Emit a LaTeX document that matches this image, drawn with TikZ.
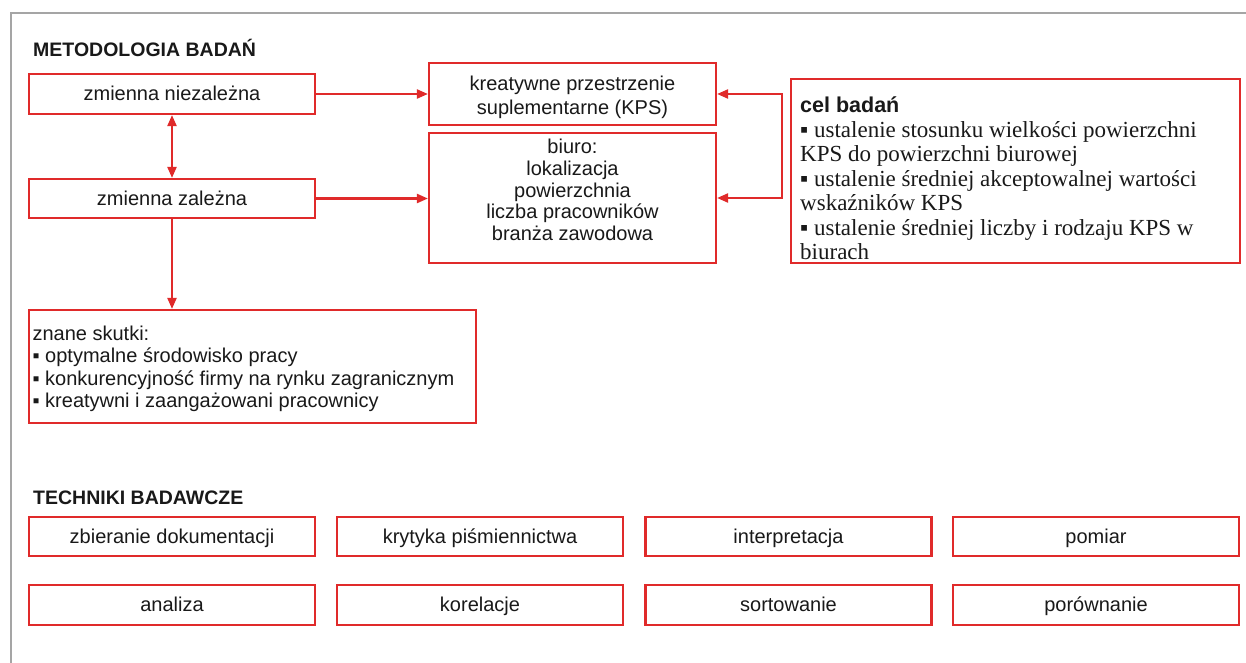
\documentclass[tikz,border=0pt]{standalone}
\usepackage{fontspec}
\setmainfont{Liberation Sans}
\newfontfamily\serifB{Liberation Serif}
\usetikzlibrary{arrows.meta}
\definecolor{boxred}{RGB}{224,42,42}
\definecolor{txt}{RGB}{25,25,25}
\definecolor{framegray}{RGB}{165,165,165}
\begin{document}
\begin{tikzpicture}[x=1pt,y=-1pt,
  box/.style={draw=boxred, line width=2.2pt, fill=white, text=txt, inner sep=0pt,
    font=\fontsize{20}{22}\selectfont, align=center},
  sbox/.style={box, text height=16.4pt, text depth=3.2pt},
  tbox/.style={sbox, minimum width=286pt, minimum height=39pt},
  label/.style={text=txt, inner sep=0pt, font=\fontsize{20}{22}\selectfont},
  arr/.style={draw=boxred, line width=2.2pt, -{Triangle[length=11pt,width=9pt]}},
  dblarr/.style={draw=boxred, line width=2.2pt, {Triangle[length=11pt,width=9pt]}-{Triangle[length=11pt,width=9pt]}},
  heading/.style={font=\bfseries\fontsize{19.5}{22}\selectfont, text=txt, anchor=west, inner sep=0pt}]
\useasboundingbox (0,0) rectangle (1246,663);
\fill[white] (0,0) rectangle (1246,663);
\draw[framegray, line width=1.5pt] (11,663) -- (11,13) -- (1246,13);

\node[heading] (h1) at (33,48) {METODOLOGIA BADAŃ};
\node[heading] (h2) at (33,498) {TECHNIKI BADAWCZE};

\node[sbox, minimum width=286pt, minimum height=40pt] (nz) at (172,94) {zmienna niezależna};
\node[sbox, minimum width=286pt, minimum height=39pt] (z) at (172,198.5) {zmienna zależna};

\node[box, minimum width=287pt, minimum height=62pt] (kps) at (572.5,94) {};
\node[label, align=center, font=\fontsize{20}{23.5}\selectfont, yshift=-3.5pt] (kpsT) at (kps.center)
  {kreatywne przestrzenie\\suplementarne (KPS)};

\node[box, minimum width=287pt, minimum height=130pt] (biuro) at (572.5,198) {};
\node[label, align=center, font=\fontsize{20}{21.7}\selectfont, yshift=8pt] (biuroT) at (biuro.center)
  {biuro:\\lokalizacja\\powierzchnia\\liczba pracowników\\branża zawodowa};

\node[box, anchor=north west, minimum width=449pt, minimum height=184pt] (cel) at (790,78) {};
\node[label, anchor=west, align=left, xshift=10pt, yshift=-7.5pt,
  font=\serifB\fontsize{23}{24.5}\selectfont] (celT) at (cel.west)
  {{\normalfont\bfseries\fontsize{21.5}{24.5}\selectfont cel badań}\\
   ▪ ustalenie stosunku wielkości powierzchni\\
   KPS do powierzchni biurowej\\
   ▪ ustalenie średniej akceptowalnej wartości\\
   wskaźników KPS\\
   ▪ ustalenie średniej liczby i rodzaju KPS w\\
   biurach};

\node[box, minimum width=447pt, minimum height=113pt] (zn) at (252.5,366.5) {};
\node[label, anchor=west, align=left, xshift=4.5pt, yshift=-2.5pt,
  font=\fontsize{20}{22.5}\selectfont] (znT) at (zn.west)
  {znane skutki:\\
   ▪ optymalne środowisko pracy\\
   ▪ konkurencyjność firmy na rynku zagranicznym\\
   ▪ kreatywni i zaangażowani pracownicy};

\coordinate (br) at (782,94);

\draw[dblarr] (nz.south) -- (z.north);
\draw[arr] (nz.east) -- (kps.west);
\draw[arr] (z.east) -- (z.east -| biuro.west);
\draw[arr] (z.south) -- (z.south |- zn.north);
\draw[dblarr] (kps.east) -- (br) -- (br |- biuro.east) -- (biuro.east);

\node[tbox] (t1) at (172,536.5) {zbieranie dokumentacji};
\node[tbox] (t2) at (480,536.5) {krytyka piśmiennictwa};
\node[tbox] (t3) at (788.5,536.5) {interpretacja};
\node[tbox] (t4) at (1096,536.5) {pomiar};
\node[tbox, minimum height=40pt] (t5) at (172,605) {analiza};
\node[tbox, minimum height=40pt] (t6) at (480,605) {korelacje};
\node[tbox, minimum height=40pt] (t7) at (788.5,605) {sortowanie};
\node[tbox, minimum height=40pt] (t8) at (1096,605) {porównanie};
\end{tikzpicture}
\end{document}
